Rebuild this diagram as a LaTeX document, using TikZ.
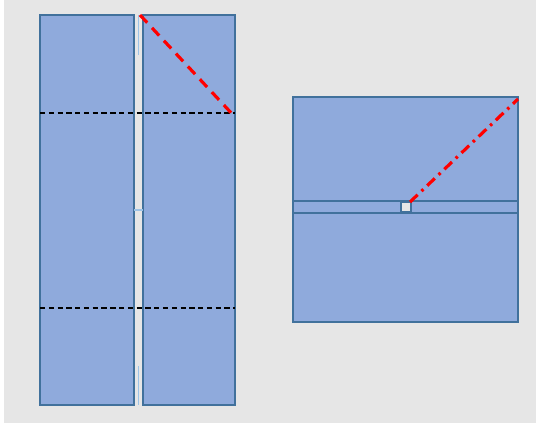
\documentclass[tikz,border=0pt]{standalone}
\usepackage{xcolor}
\definecolor{panelfill}{RGB}{143,170,220}
\definecolor{paneledge}{RGB}{65,113,156}
\definecolor{seamblue}{RGB}{157,195,230}
\definecolor{backgray}{RGB}{230,230,230}
\tikzset{
  panel/.style={fill=panelfill,draw=paneledge,line width=1.2pt},
  fold/.style={draw=black,dashed,line width=0.6pt,dash pattern=on 3pt off 2pt},
  seam/.style={draw=seamblue,line width=0.8pt},
  cutline/.style={draw=red,line width=1.8pt,dash pattern=on 6pt off 4pt},
  cutdot/.style={draw=red,line width=1.8pt,dash pattern=on 6pt off 3pt on 1.5pt off 3pt}
}
\begin{document}
\begin{tikzpicture}[x=0.02cm,y=-0.02cm]
    \useasboundingbox (0,0) rectangle (536,423);
    \fill[white] (0,0) rectangle (536,423);
    \fill[backgray] (4,0) rectangle (536,423);
    % left pair of strips
    \draw [panel] (40,15) rectangle (134,405);
    \draw [panel] (143,15) rectangle (235,405);
    \draw [seam] (138.5,15) -- (138.5,55);
    \draw [seam] (138.5,366) -- (138.5,405);
    \draw [seam] (134,210) -- (143,210);
    \draw [fold] (40,113) -- (235,113);
    \draw [fold] (40,308) -- (235,308);
    \draw [cutline] (140,15) -- (235,117);
    % right square
    \draw [panel] (293,97) rectangle (518,322);
    \draw [panel] (293,201) rectangle (518,213);
    \fill [backgray,draw=paneledge,line width=0.6pt] (401,202) rectangle (411,212);
    \draw [cutdot] (410,202) -- (518,99);
\end{tikzpicture}
\end{document}
